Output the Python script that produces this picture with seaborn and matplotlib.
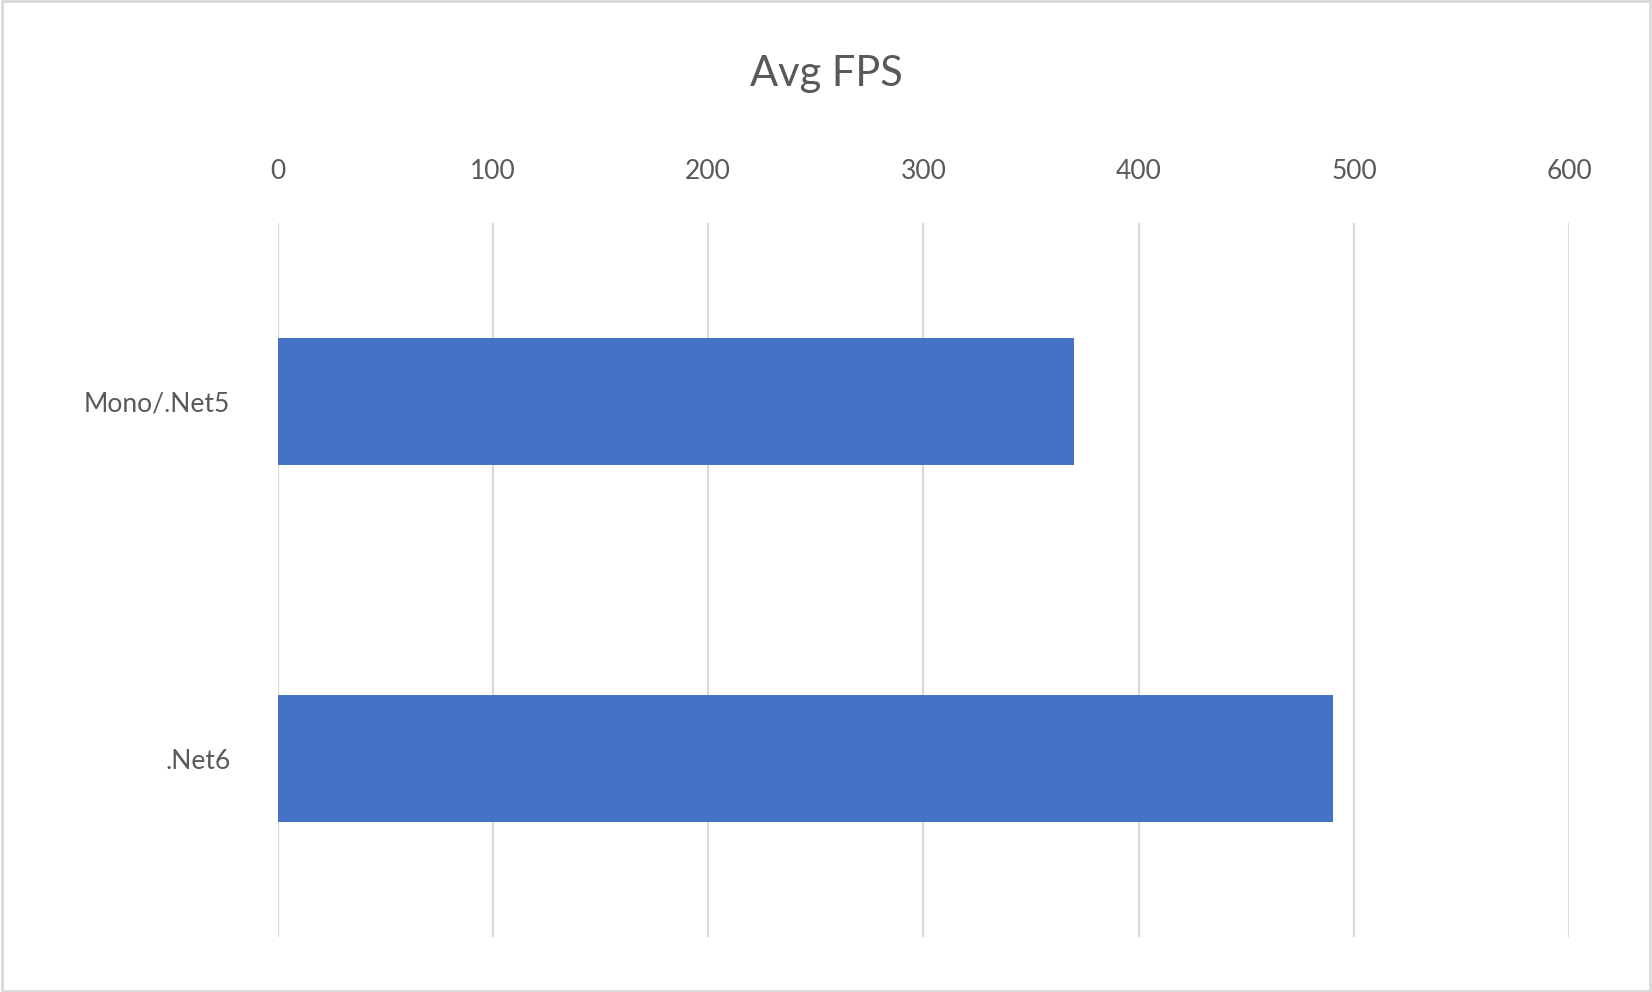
import matplotlib
matplotlib.use("Agg")
import matplotlib.pyplot as plt
import seaborn as sns
import pandas as pd

categories = ["Mono/.Net5", ".Net6"]
values = [370, 490]
ticks = [0, 100, 200, 300, 400, 500, 600]

df = pd.DataFrame({"cat": categories, "fps": values})
plt.rcParams["font.family"] = "Lato"
fig = plt.figure(figsize=(16.52, 9.92), dpi=100)
ax = fig.add_axes([0.168, 0.055, 0.782, 0.72])
sns.barplot(data=df, x="fps", y="cat", color="#4472C4", width=0.355, ax=ax, saturation=1)
ax.set_xlim(0, 600)
ax.set_ylim(1.5, -0.5)
ax.set_xticks(ticks)
ax.xaxis.tick_top()
ax.tick_params(axis="x", length=0, pad=28, labelsize=19, labelcolor="#595959")
ax.tick_params(axis="y", length=0, pad=34, labelsize=19, labelcolor="#595959")
ax.grid(axis="x", color="#D9D9D9", linewidth=1.5)
ax.set_axisbelow(True)
for s in ax.spines.values():
    s.set_visible(False)
ax.axvline(0, color="#D9D9D9", linewidth=1.5, zorder=0)
ax.set_xlabel("")
ax.set_ylabel("")
fig.text(0.5, 0.925, "Avg FPS", ha="center", va="center", fontsize=30, color="#595959")
fig.patches.append(plt.Rectangle((0.001, 0.001), 0.998, 0.998, transform=fig.transFigure,
                                 fill=False, edgecolor="#D9D9D9", linewidth=2))
fig.savefig("out.png", dpi=100)
